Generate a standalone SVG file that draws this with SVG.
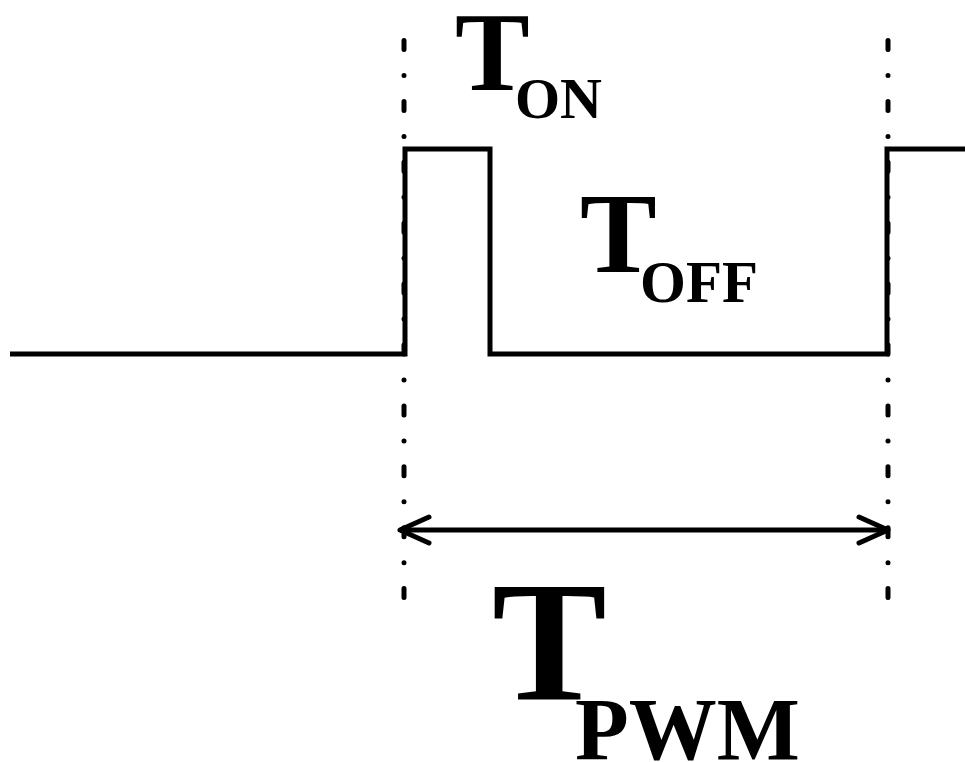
<svg xmlns="http://www.w3.org/2000/svg" width="965" height="762" viewBox="0 0 965 762">
  <style>
    .wave { fill: none; stroke: #000; stroke-width: 5; stroke-linejoin: miter; }
    .guide { fill: none; stroke: #000; stroke-width: 5; stroke-linecap: round; stroke-dasharray: 9 26 0 25.9; }
    .dim { fill: none; stroke: #000; stroke-width: 5; }
    .lbl { fill: #000; font-family: "Liberation Serif", "Times New Roman", Times, serif; font-weight: 700; }
  </style>
  <defs>
    <marker id="openArrow" markerUnits="userSpaceOnUse" viewBox="-36 -18 42 36" markerWidth="42" markerHeight="36" refX="0" refY="0" orient="auto-start-reverse" overflow="visible">
      <path d="M-29,-13 L0,0 L-29,13" fill="none" stroke="#000" stroke-width="5" stroke-linecap="round" stroke-linejoin="round"/>
    </marker>
  </defs>
  <rect width="965" height="762" fill="#fff"/>

  <!-- period boundary guides -->
  <g id="guides">
    <line class="guide" x1="404" y1="40.5" x2="404" y2="600"/>
    <line class="guide" x1="888" y1="40.5" x2="888" y2="600"/>
  </g>

  <!-- PWM waveform -->
  <g id="waveform">
    <polyline class="wave" points="10,354 405,354 405,149 490,149 490,354 887,354 887,149 965,149"/>
  </g>

  <!-- period dimension arrow -->
  <g id="connectors">
    <line class="dim" x1="400" y1="530" x2="888" y2="530" marker-start="url(#openArrow)" marker-end="url(#openArrow)"/>
  </g>

  <g id="label-ton">
    <text class="lbl" x="455" y="90" font-size="112">T</text>
    <text class="lbl" x="515" y="118" font-size="58">ON</text>
  </g>
  <g id="label-toff">
    <text class="lbl" x="580" y="272" font-size="115">T</text>
    <text class="lbl" x="640" y="302" font-size="59">OFF</text>
  </g>
  <g id="label-tpwm">
    <text class="lbl" x="492" y="700" font-size="172">T</text>
    <text class="lbl" x="575" y="759" font-size="88">PWM</text>
  </g>
</svg>
